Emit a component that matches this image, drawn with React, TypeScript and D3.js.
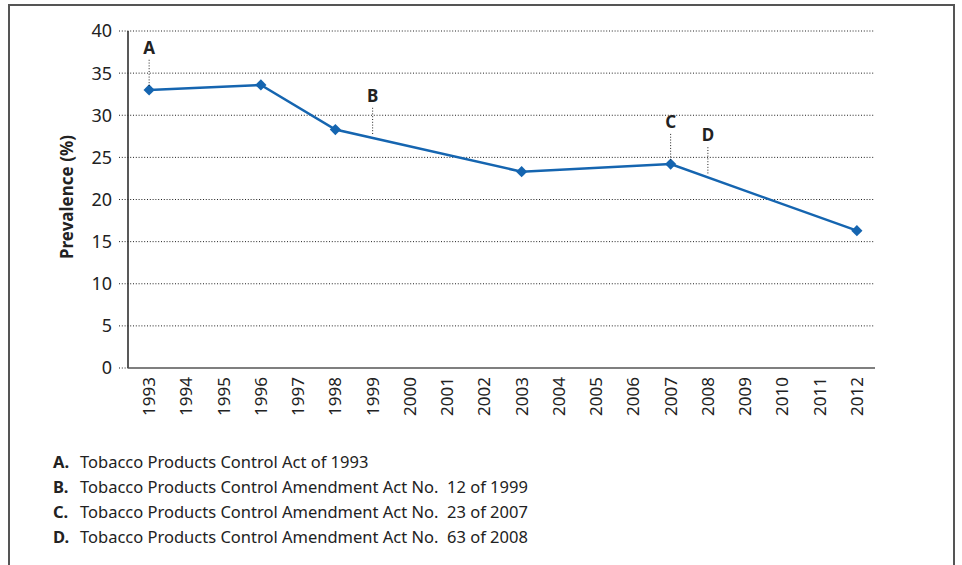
/**
 * Tobacco prevalence line chart with legislative milestones (A–D).
 */
import { useEffect, useRef } from 'react';
import * as d3 from 'd3';

const years = [
  '1993', '1994', '1995', '1996', '1997', '1998', '1999', '2000', '2001', '2002',
  '2003', '2004', '2005', '2006', '2007', '2008', '2009', '2010', '2011', '2012',
];
const surveyYears = ['1993', '1996', '1998', '2003', '2007', '2012'];
const prevalence = [33.0, 33.6, 28.3, 23.3, 24.2, 16.3];
const yTicks = [0, 5, 10, 15, 20, 25, 30, 35, 40];

const markerKeys = ['A', 'B', 'C', 'D'];
const markerYears = ['1993', '1999', '2007', '2008'];
const legendTexts = [
  'Tobacco Products Control Act of 1993',
  'Tobacco Products Control Amendment Act No.  12 of 1999',
  'Tobacco Products Control Amendment Act No.  23 of 2007',
  'Tobacco Products Control Amendment Act No.  63 of 2008',
];

const FONT = '"Noto Sans", "Open Sans", sans-serif';
const BLUE = '#1565b0';

export default function App() {
  const svgRef = useRef<SVGSVGElement>(null);

  useEffect(() => {
    if (!svgRef.current) return;
    const svg = d3.select(svgRef.current);
    svg.selectAll('*').remove();

    const width = 962;
    const height = 565;
    svg.attr('width', width).attr('height', height);

    // outer frame (no bottom edge, the figure runs off the page)
    svg.append('path')
      .attr('d', `M9,${height} L9,5 L954,5 L954,${height}`)
      .attr('fill', 'none')
      .attr('stroke', '#555')
      .attr('stroke-width', 2);

    const x = d3.scalePoint<string>().domain(years).range([130.5, 875.5]).padding(0.5);
    const y = d3.scaleLinear().domain([0, 40]).range([368, 31]);
    const left = 128;
    const right = 875;

    // dotted grid
    svg.append('g')
      .selectAll('line')
      .data(yTicks)
      .enter().append('line')
      .attr('x1', 119)
      .attr('x2', (d) => (d === 0 ? left : right))
      .attr('y1', (d) => y(d))
      .attr('y2', (d) => y(d))
      .attr('stroke', '#222')
      .attr('stroke-width', 1)
      .attr('stroke-dasharray', '1,1.8');

    // axes lines
    svg.append('line')
      .attr('x1', left).attr('x2', left)
      .attr('y1', y(40)).attr('y2', y(0))
      .attr('stroke', '#222').attr('stroke-width', 1.5);
    svg.append('line')
      .attr('x1', left).attr('x2', right)
      .attr('y1', y(0)).attr('y2', y(0))
      .attr('stroke', '#555').attr('stroke-width', 1.5);

    // y tick labels
    svg.append('g')
      .selectAll('text')
      .data(yTicks)
      .enter().append('text')
      .attr('x', 112)
      .attr('y', (d) => y(d))
      .attr('dy', '0.36em')
      .attr('text-anchor', 'end')
      .attr('font-family', FONT)
      .attr('font-size', 18)
      .attr('fill', '#222')
      .text((d) => d);

    // x tick labels, rotated
    svg.append('g')
      .selectAll('text')
      .data(years)
      .enter().append('text')
      .attr('transform', (d) => `translate(${(x(d) ?? 0) + 6},377) rotate(-90)`)
      .attr('text-anchor', 'end')
      .attr('font-family', FONT)
      .attr('font-size', 17)
      .attr('fill', '#222')
      .text((d) => d);

    // y axis title
    svg.append('text')
      .attr('transform', 'translate(73,197) rotate(-90)')
      .attr('text-anchor', 'middle')
      .attr('font-family', FONT)
      .attr('font-size', 17)
      .attr('font-weight', 'bold')
      .attr('fill', '#222')
      .text('Prevalence (%)');

    const pts = surveyYears.map((yr, i) => ({ yr, v: prevalence[i] }));

    // line
    const line = d3.line<typeof pts[0]>()
      .x((d) => x(d.yr) ?? 0)
      .y((d) => y(d.v));
    svg.append('path')
      .datum(pts)
      .attr('d', line)
      .attr('fill', 'none')
      .attr('stroke', BLUE)
      .attr('stroke-width', 2.5);

    // diamond markers
    svg.append('g')
      .selectAll('path')
      .data(pts)
      .enter().append('path')
      .attr('d', d3.symbol().type(d3.symbolDiamond2).size(80))
      .attr('transform', (d) => `translate(${x(d.yr)},${y(d.v)})`)
      .attr('fill', BLUE);

    // value of the line at any year (linear between survey points)
    const lineValue = (yr: string) => {
      const px = x(yr) ?? 0;
      for (let i = 0; i < pts.length - 1; i++) {
        const x0 = x(pts[i].yr) ?? 0;
        const x1 = x(pts[i + 1].yr) ?? 0;
        if (px >= x0 && px <= x1) {
          const t = (px - x0) / (x1 - x0);
          return pts[i].v + t * (pts[i + 1].v - pts[i].v);
        }
      }
      return pts[pts.length - 1].v;
    };

    // milestone annotations
    const ann = svg.append('g');
    markerKeys.forEach((k, i) => {
      const px = x(markerYears[i]) ?? 0;
      const py = y(lineValue(markerYears[i]));
      ann.append('line')
        .attr('x1', px).attr('x2', px)
        .attr('y1', py - 4).attr('y2', py - 32)
        .attr('stroke', '#222')
        .attr('stroke-width', 1)
        .attr('stroke-dasharray', '1,1.8');
      ann.append('text')
        .attr('x', px)
        .attr('y', py - 36)
        .attr('text-anchor', 'middle')
        .attr('font-family', FONT)
        .attr('font-size', 17)
        .attr('font-weight', 'bold')
        .attr('fill', '#222')
        .text(k);
    });

    // footnote legend
    const leg = svg.append('g').attr('font-family', FONT).attr('font-size', 16.5).attr('fill', '#222');
    markerKeys.forEach((k, i) => {
      const ty = 468 + i * 25;
      leg.append('text')
        .attr('x', 53).attr('y', ty)
        .attr('font-weight', 'bold')
        .text(`${k}.`);
      leg.append('text')
        .attr('x', 80).attr('y', ty)
        .attr('xml:space', 'preserve')
        .style('white-space', 'pre')
        .text(legendTexts[i]);
    });
  }, []);

  return <svg ref={svgRef} style={{ display: 'block', position: 'absolute', left: 0, top: 0 }} />;
}
